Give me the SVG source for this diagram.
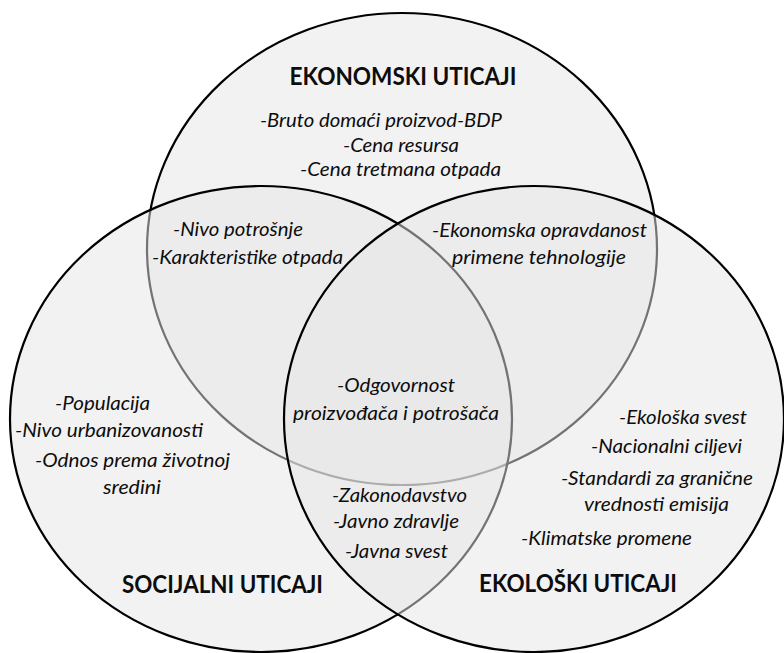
<svg xmlns="http://www.w3.org/2000/svg" width="784" height="653" viewBox="0 0 784 653">
<style>
.c{fill:#e6e6e6;fill-opacity:0.5;stroke:#000;stroke-width:2.2}
.t{font-family:Lato,"Liberation Sans",sans-serif;font-style:italic;font-size:20px;fill:#0d0d0d;text-anchor:middle}
.h{font-family:Lato,"Liberation Sans",sans-serif;font-weight:bold;font-size:24px;fill:#0d0d0d;text-anchor:middle}
</style>
<rect width="784" height="653" fill="#fff"/>
<g id="circle-ekonomski"><ellipse class="c" cx="402" cy="249" rx="255" ry="236"/></g>
<g id="circle-socijalni"><ellipse class="c" cx="261" cy="419" rx="251" ry="233"/></g>
<g id="circle-ekoloski"><ellipse class="c" cx="534" cy="419" rx="250" ry="233"/></g>
<g id="connectors"></g>
<g id="labels-ekonomski">
<text class="h" x="403" y="85" textLength="227" lengthAdjust="spacingAndGlyphs">EKONOMSKI UTICAJI</text>
<text class="t" x="381" y="127" textLength="242" lengthAdjust="spacingAndGlyphs">-Bruto domaći proizvod-BDP</text>
<text class="t" x="401" y="152" textLength="116" lengthAdjust="spacingAndGlyphs">-Cena resursa</text>
<text class="t" x="400.5" y="176" textLength="201" lengthAdjust="spacingAndGlyphs">-Cena tretmana otpada</text>
</g>
<g id="labels-ekonomski-socijalni">
<text class="t" x="238" y="236" textLength="130" lengthAdjust="spacingAndGlyphs">-Nivo potrošnje</text>
<text class="t" x="247.5" y="264" textLength="191" lengthAdjust="spacingAndGlyphs">-Karakteristike otpada</text>
</g>
<g id="labels-ekonomski-ekoloski">
<text class="t" x="539.5" y="237" textLength="215" lengthAdjust="spacingAndGlyphs">-Ekonomska opravdanost</text>
<text class="t" x="539" y="264" textLength="174" lengthAdjust="spacingAndGlyphs">primene tehnologije</text>
</g>
<g id="labels-centar">
<text class="t" x="396" y="392" textLength="118" lengthAdjust="spacingAndGlyphs">-Odgovornost</text>
<text class="t" x="396" y="420" textLength="206" lengthAdjust="spacingAndGlyphs">proizvođača i potrošača</text>
</g>
<g id="labels-socijalni">
<text class="t" x="102.5" y="410" textLength="95" lengthAdjust="spacingAndGlyphs">-Populacija</text>
<text class="t" x="109" y="437" textLength="188" lengthAdjust="spacingAndGlyphs">-Nivo urbanizovanosti</text>
<text class="t" x="132.5" y="467" textLength="195" lengthAdjust="spacingAndGlyphs">-Odnos prema životnoj</text>
<text class="t" x="132" y="494" textLength="58" lengthAdjust="spacingAndGlyphs">sredini</text>
<text class="h" x="222.5" y="593" textLength="201" lengthAdjust="spacingAndGlyphs">SOCIJALNI UTICAJI</text>
</g>
<g id="labels-socijalni-ekoloski">
<text class="t" x="399.5" y="502" textLength="135" lengthAdjust="spacingAndGlyphs">-Zakonodavstvo</text>
<text class="t" x="396" y="528" textLength="126" lengthAdjust="spacingAndGlyphs">-Javno zdravlje</text>
<text class="t" x="396.5" y="558" textLength="103" lengthAdjust="spacingAndGlyphs">-Javna svest</text>
</g>
<g id="labels-ekoloski">
<text class="t" x="683" y="424" textLength="128" lengthAdjust="spacingAndGlyphs">-Ekološka svest</text>
<text class="t" x="666.5" y="453" textLength="151" lengthAdjust="spacingAndGlyphs">-Nacionalni ciljevi</text>
<text class="t" x="657" y="485" textLength="192" lengthAdjust="spacingAndGlyphs">-Standardi za granične</text>
<text class="t" x="656.5" y="511" textLength="145" lengthAdjust="spacingAndGlyphs">vrednosti emisija</text>
<text class="t" x="606.5" y="545" textLength="171" lengthAdjust="spacingAndGlyphs">-Klimatske promene</text>
<text class="h" x="578" y="592" textLength="198" lengthAdjust="spacingAndGlyphs">EKOLOŠKI UTICAJI</text>
</g>
</svg>
